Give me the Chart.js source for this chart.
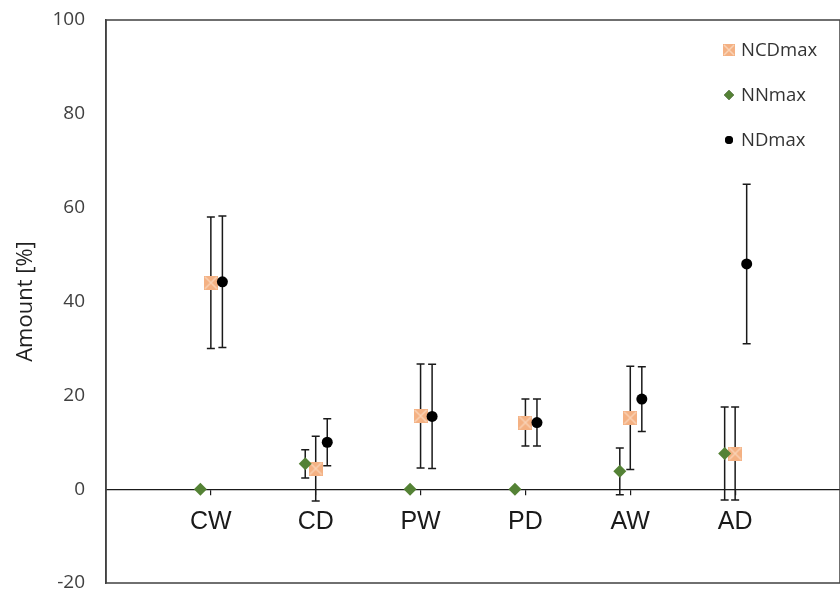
<!DOCTYPE html>
<html>
<head>
<meta charset="utf-8">
<script src="https://cdn.jsdelivr.net/npm/chart.js@4.4.0/dist/chart.umd.min.js"></script>
<style>
  html, body { margin: 0; padding: 0; background: #fff; }
</style>
</head>
<body>
<canvas id="grafico" width="840" height="592"></canvas>
<script>
const categorias = ['CW', 'CD', 'PW', 'PD', 'AW', 'AD'];
const ticksY = [-20, 0, 20, 40, 60, 80, 100];

const ncdMax = [44, 4.4, 15.6, 14.2, 15.2, 7.6];
const ncdErro = [14, 6.9, 11.1, 5, 11, 9.9];
const nnMax = [0, 5.4, 0, 0, 3.8, 7.6];
const nnErro = [0, 3, 0, 0, 5, 9.9];
const ndMax = [44.2, 10, 15.5, 14.2, 19.2, 48];
const ndErro = [14, 5, 11.1, 5, 6.9, 17];

// deslocamento horizontal de cada serie dentro da categoria
const deslocNN = -0.1, deslocNCD = 0, deslocND = 0.11;

function pontos(valores, desloc) {
    return valores.map((v, i) => ({ x: i + 1 + desloc, y: v }));
}

function marcadorQuadrado(tam) {
    const c = document.createElement('canvas');
    c.width = tam; c.height = tam;
    const g = c.getContext('2d');
    g.fillStyle = '#F4B183';
    g.fillRect(0, 0, tam, tam);
    g.strokeStyle = 'rgba(250,214,186,0.9)';
    g.lineWidth = 1.5;
    g.beginPath();
    g.moveTo(1, 1); g.lineTo(tam - 1, tam - 1);
    g.moveTo(tam - 1, 1); g.lineTo(1, tam - 1);
    g.stroke();
    return c;
}
const quadrado = marcadorQuadrado(14);
const quadradoLegenda = marcadorQuadrado(12);

// zera o padding automatico das escalas para controlar a area do grafico
function semPadding(s) {
    s.paddingTop = 0; s.paddingBottom = 0; s.paddingLeft = 0; s.paddingRight = 0;
}

const barrasErro = {
    id: 'barrasErro',
    beforeDatasetsDraw(chart) {
        const ctx = chart.ctx;
        const sx = chart.scales.x, sy = chart.scales.y;
        ctx.save();
        ctx.strokeStyle = '#1a1a1a';
        ctx.lineWidth = 1.5;
        chart.data.datasets.forEach(ds => {
            ds.data.forEach((p, i) => {
                const e = ds.erros[i];
                if (!e) return;
                const x = sx.getPixelForValue(p.x);
                const y1 = sy.getPixelForValue(p.y + e);
                const y2 = sy.getPixelForValue(p.y - e);
                ctx.beginPath();
                ctx.moveTo(x, y1); ctx.lineTo(x, y2);
                ctx.moveTo(x - 4, y1); ctx.lineTo(x + 4, y1);
                ctx.moveTo(x - 4, y2); ctx.lineTo(x + 4, y2);
                ctx.stroke();
            });
        });
        ctx.restore();
    }
};

const moldura = {
    id: 'moldura',
    afterDraw(chart) {
        const a = chart.chartArea, ctx = chart.ctx;
        ctx.save();
        ctx.strokeStyle = '#404040';
        ctx.lineWidth = 1.5;
        ctx.strokeRect(a.left, a.top, a.right - a.left, a.bottom - a.top);
        ctx.restore();
    }
};

const legenda = {
    id: 'legendaInterna',
    afterDraw(chart) {
        const a = chart.chartArea, ctx = chart.ctx;
        ctx.save();
        ctx.font = '18.5px "Open Sans"';
        ctx.fillStyle = '#333';
        ctx.textBaseline = 'middle';
        chart.data.datasets.forEach((ds, i) => {
            const x = a.right - 111, y = a.top + 30 + i * 45;
            if (ds.label === 'NCDmax') {
                ctx.drawImage(quadradoLegenda, x - 6, y - 6);
            } else {
                Chart.helpers.drawPoint(ctx, {
                    pointStyle: ds.pointStyle,
                    radius: ds.label === 'NNmax' ? 5 : 4,
                    borderWidth: 0
                }, x, y);
                ctx.fillStyle = ds.backgroundColor;
                ctx.fill();
                ctx.fillStyle = '#333';
            }
            ctx.fillText(ds.label, x + 12, y + 1);
        });
        ctx.restore();
    }
};

new Chart(document.getElementById('grafico'), {
    type: 'scatter',
    data: {
        datasets: [
            { label: 'NCDmax', data: pontos(ncdMax, deslocNCD), erros: ncdErro,
              pointStyle: quadrado, backgroundColor: '#F4B183', order: 2 },
            { label: 'NNmax', data: pontos(nnMax, deslocNN), erros: nnErro,
              pointStyle: 'rectRot', pointRadius: 6.5, backgroundColor: '#548235',
              borderWidth: 0, order: 1 },
            { label: 'NDmax', data: pontos(ndMax, deslocND), erros: ndErro,
              pointStyle: 'circle', pointRadius: 5.5, backgroundColor: '#000',
              borderWidth: 0, order: 0 }
        ]
    },
    options: {
        responsive: false,
        animation: false,
        layout: { autoPadding: false, padding: { top: 20, bottom: 9, left: 0, right: -2 } },
        plugins: { legend: { display: false }, tooltip: { enabled: false } },
        scales: {
            x: {
                type: 'linear',
                min: 0, max: 7,
                position: { y: 0 },
                afterBuildTicks: s => { s.ticks = categorias.map((c, i) => ({ value: i + 1 })); },
                afterFit: semPadding,
                ticks: {
                    callback: v => categorias[v - 1] || '',
                    font: { family: '"Liberation Sans"', size: 25 },
                    color: '#1a1a1a',
                    padding: 13,
                    maxRotation: 0
                },
                grid: { drawOnChartArea: false, drawTicks: true, tickLength: 5, color: '#1a1a1a', lineWidth: 1.2 },
                border: { color: '#1a1a1a', width: 1.2 }
            },
            y: {
                min: -20, max: 100,
                afterBuildTicks: s => { s.ticks = ticksY.map(v => ({ value: v })); },
                afterFit: s => { s.width = 106; semPadding(s); },
                ticks: {
                    font: { family: '"Open Sans"', size: 19 },
                    color: '#404040',
                    padding: 21
                },
                grid: { display: false, drawTicks: false },
                border: { color: '#404040', width: 1.5 },
                title: {
                    display: true,
                    text: 'Amount [%]',
                    font: { family: '"Open Sans"', size: 22 },
                    color: '#1f1f1f',
                    padding: { top: 13, bottom: 0 }
                }
            }
        }
    },
    plugins: [barrasErro, moldura, legenda]
});
</script>
</body>
</html>
